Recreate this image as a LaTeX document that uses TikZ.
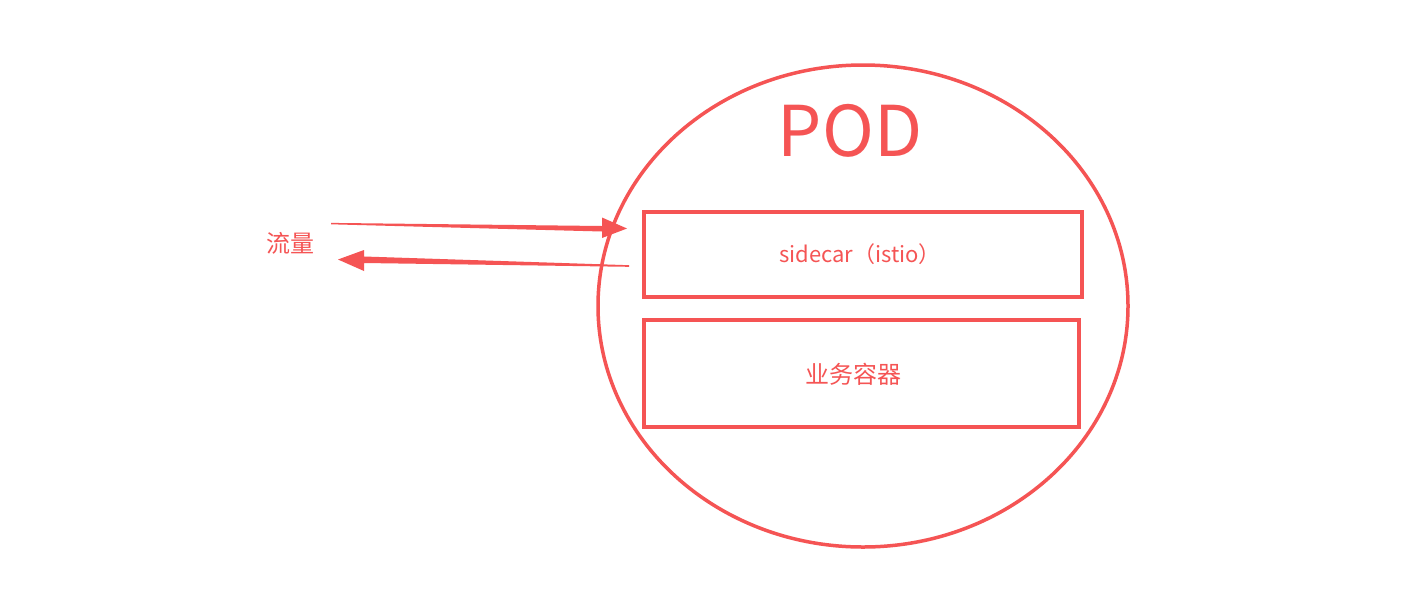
\documentclass[tikz,border=0pt]{standalone}
\usepackage{fontspec}
\setmainfont{Noto Sans CJK SC}
\usetikzlibrary{calc,shapes.geometric}
\definecolor{podred}{RGB}{245,84,84}
\tikzset{
  outline/.style={draw=podred, line width=3.5pt, inner sep=0pt},
  lbl/.style={text=podred, font=\fontsize{22}{26}\selectfont, inner sep=0pt},
  cjklbl/.style={text=podred, font=\fontsize{24}{28}\selectfont, inner sep=0pt},
}
\begin{document}
\begin{tikzpicture}[x=1pt,y=-1pt]
\useasboundingbox (0,0) rectangle (1411,606);
\fill[white] (0,0) rectangle (1411,606);
% pod ellipse
\node[outline, ellipse, minimum width=530pt, minimum height=482pt] (pod) at (863,306) {};
\node[text=podred, font=\fontsize{70}{78}\selectfont, inner sep=0pt] (podl) at (850,131) {POD};
% boxes
\node[outline, minimum width=438pt, minimum height=85pt] (side) at (863,254.5) {};
\node[lbl] (sidel) at (860,254) {sidecar（istio）};
\node[outline, minimum width=435pt, minimum height=107pt] (biz) at (861.5,373.5) {};
\node[cjklbl] (bizl) at (853,374) {业务容器};
% traffic label
\node[cjklbl] (flow) at (290,243) {流量};
% arrow in
\coordinate (a1s) at (331,223.5);
\coordinate (a1t) at (627,228.5);
\fill[podred] (a1s) -- ++(0,-0.6) -- (602,226) -- (602,217.5) -- (a1t) -- (602,238) -- (602,231.5) -- ($(a1s)+(0,0.8)$) -- cycle;
% arrow out
\coordinate (a2s) at (629,266);
\coordinate (a2t) at (338,259.5);
\fill[podred] (a2s) -- ++(0,-0.8) -- (364,256.5) -- (364,250) -- (a2t) -- (364,271) -- (364,263) -- ($(a2s)+(0,0.8)$) -- cycle;
\end{tikzpicture}
\end{document}
